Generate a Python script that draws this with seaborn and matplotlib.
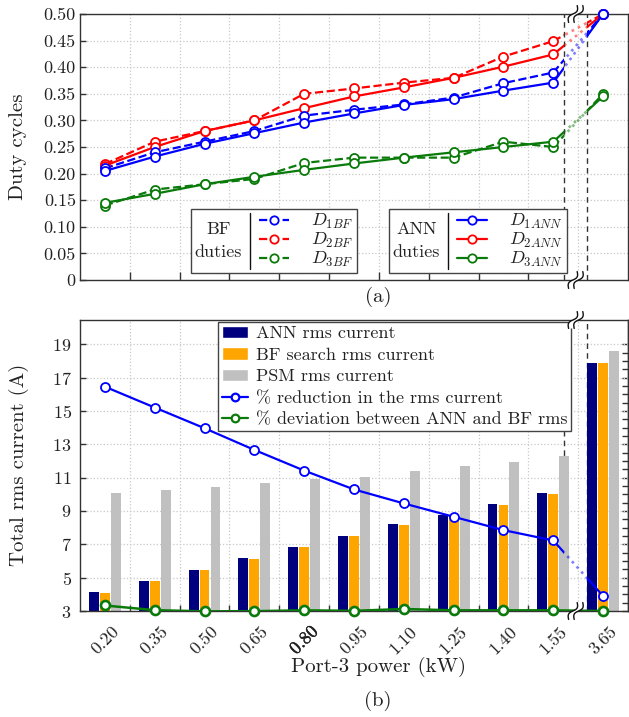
import numpy as np
import pandas as pd
import matplotlib
matplotlib.use("Agg")
import matplotlib.pyplot as plt
import matplotlib.transforms as mtransforms
import matplotlib.patheffects as pe
from matplotlib.lines import Line2D
from matplotlib.patches import Patch, Rectangle, Polygon
from matplotlib.legend import Legend
from matplotlib.offsetbox import HPacker, DrawingArea
import seaborn as sns

# ---------------------------------------------------------------- data
power_labels = ["0.20", "0.35", "0.50", "0.65", "0.80", "0.95",
                "1.10", "1.25", "1.40", "1.55", "3.65"]

# duty cycles (ANN prediction vs brute-force search)
d1_ann = [0.205, 0.232, 0.256, 0.276, 0.296, 0.313, 0.329, 0.340, 0.356, 0.371, 0.500]
d1_bf = [0.210, 0.240, 0.260, 0.280, 0.309, 0.320, 0.330, 0.343, 0.370, 0.390, 0.500]
d2_ann = [0.215, 0.250, 0.280, 0.300, 0.323, 0.345, 0.362, 0.380, 0.401, 0.424, 0.500]
d2_bf = [0.218, 0.260, 0.280, 0.300, 0.350, 0.360, 0.371, 0.380, 0.420, 0.449, 0.500]
d3_ann = [0.145, 0.162, 0.180, 0.194, 0.207, 0.219, 0.230, 0.240, 0.250, 0.260, 0.345]
d3_bf = [0.140, 0.170, 0.180, 0.190, 0.220, 0.230, 0.230, 0.230, 0.260, 0.250, 0.350]

# total rms currents (A)
ann_rms = [4.15, 4.80, 5.45, 6.15, 6.85, 7.50, 8.20, 8.77, 9.42, 10.05, 17.90]
bf_rms = [4.10, 4.78, 5.45, 6.13, 6.85, 7.48, 8.15, 8.75, 9.38, 10.02, 17.90]
psm_rms = [10.08, 10.25, 10.43, 10.65, 10.89, 11.04, 11.38, 11.68, 11.96, 12.32, 18.61]

# percentage curves
reduction_pct = [16.45, 15.20, 13.96, 12.66, 11.42, 10.29, 9.45, 8.65, 7.85, 7.23, 3.90]
deviation_pct = [3.33, 3.05, 2.98, 2.99, 3.04, 3.01, 3.12, 3.04, 3.04, 3.04, 3.00]

duty_ticks = [0, 0.05, 0.10, 0.15, 0.20, 0.25, 0.30, 0.35, 0.40, 0.45, 0.50]
rms_ticks = [3, 5, 7, 9, 11, 13, 15, 17, 19]

# ---------------------------------------------------------------- style
BLUE, RED, GREEN = "#0000ff", "#ff0000", "#0a7a0a"
NAVY, ORANGE, SILVER = "#00007f", "#ffa500", "#c0c0c0"
INK = "#222222"
GRID = dict(color="#c8c8c8", linestyle=":", linewidth=0.9)

sns.set_theme(style="white")
plt.rcParams.update({
    "font.family": ["cmr10"],
    "mathtext.fontset": "cm",
    "axes.unicode_minus": False,
    "axes.formatter.use_mathtext": True,
    "axes.edgecolor": "#333333",
    "axes.linewidth": 1.0,
    "xtick.color": "#333333",
    "ytick.color": "#333333",
    "xtick.labelcolor": INK,
    "ytick.labelcolor": INK,
    "text.color": INK,
})

W, H = 629, 717
fig = plt.figure(figsize=(W / 100, H / 100), dpi=100)


def px_rect(left, top, right, bottom):
    return [left / W, 1 - bottom / H, (right - left) / W, (bottom - top) / H]


ax1 = fig.add_axes(px_rect(80, 14, 628, 280))
ax2 = fig.add_axes(px_rect(80, 320, 628, 611))

pos = np.arange(len(power_labels))
BREAK_LO, BREAK_HI, BREAK_MID = 9.22, 9.68, 9.45
LW, MS, MEW = 1.6, 6.5, 1.3


def broken_series(ax, y, color, ls, z=3):
    """Line through all points; the last segment is dotted across the axis break."""
    y = np.asarray(y)
    ax.plot(pos[:-1], y[:-1], color=color, ls=ls, lw=LW, zorder=z)
    blend = mtransforms.blended_transform_factory(ax.transData, ax.transAxes)
    for x0, x1, style, alpha in [(-1, BREAK_LO, ls, 1.0),
                                 (BREAK_LO, BREAK_HI, ":", 0.5),
                                 (BREAK_HI, 12, ls, 1.0)]:
        seg, = ax.plot(pos[-2:], y[-2:], color=color, ls=style, lw=LW + 0.3 * (style == ":"),
                       alpha=alpha, zorder=z)
        seg.set_clip_path(Rectangle((x0, -1), x1 - x0, 3, transform=blend))
    ax.plot(pos, y, ls="none", marker="o", ms=MS, mfc="white", mec=color, mew=MEW,
            zorder=z + 0.5, clip_on=False)


def squiggle(ax, xd):
    blend = mtransforms.blended_transform_factory(ax.transData, ax.transAxes)
    t = np.linspace(-1, 1, 60)
    d = np.array([0.45, 0.89])
    n = np.array([0.89, -0.45])
    base = np.outer(t * 0.095, d) + np.outer(0.024 * np.sin(np.pi * t), n)
    left = base - [0.028, 0]
    right = base + [0.028, 0]
    for ya in (0, 1):
        tr = fig.dpi_scale_trans + mtransforms.ScaledTranslation(xd, ya, blend)
        fill = Polygon(np.vstack([left, right[::-1]]), closed=True, facecolor="white",
                       edgecolor="none", transform=tr, clip_on=False, zorder=6)
        ax.add_artist(fill)
        fill.set_clip_on(False)
        for c in (left, right):
            ln = Line2D(c[:, 0], c[:, 1], color="#111111", lw=1.0, transform=tr,
                        clip_on=False, zorder=6.1)
            ax.add_artist(ln)
            ln.set_clip_on(False)


# ---------------------------------------------------------------- (a) duty cycles
for y, color, ls in [(d3_bf, GREEN, "--"), (d3_ann, GREEN, "-"),
                     (d2_bf, RED, "--"), (d2_ann, RED, "-"),
                     (d1_bf, BLUE, "--"), (d1_ann, BLUE, "-")]:
    broken_series(ax1, y, color, ls)

for xb in (BREAK_LO, BREAK_HI):
    ax1.axvline(xb, color="#333333", ls=(0, (4, 3)), lw=1.0, zorder=2.5)

ax1.set_xlim(-0.5, len(pos) - 0.5)
ax1.set_ylim(0, 0.5)
ax1.set_xticks(pos[:-1] + 0.5)
ax1.set_xticklabels([])
ax1.set_yticks(duty_ticks)
ax1.set_yticklabels(["0" if v == 0 else f"{v:.2f}" for v in duty_ticks])
ax1.tick_params(axis="x", direction="in", length=6, width=1, bottom=True)
ax1.tick_params(axis="y", direction="in", length=4, width=1, left=True, labelsize=13, pad=3)
ax1.grid(True, axis="both", **GRID)
ax1.set_axisbelow(True)
for sp in ax1.spines.values():
    sp.set_zorder(2.6)


def side_title_legend(ax, handles, labels, title, anchor):
    leg = Legend(ax, handles, labels, title=title, loc="lower left",
                 bbox_to_anchor=anchor, bbox_transform=ax.transAxes, borderaxespad=0,
                 frameon=True, fancybox=False, edgecolor="#444444", framealpha=1,
                 fontsize=13, title_fontsize=13, handlelength=1.7, handletextpad=1.2,
                 labelspacing=0.0, borderpad=0.2)
    leg.get_frame().set_linewidth(1.0)
    leg.get_title().set_multialignment("center")
    leg.get_title().set_linespacing(1.55)
    sep = DrawingArea(6, 40, 0, 0)
    sep.add_artist(Line2D([3, 3], [0, 40], color="#111111", lw=1.0))
    row = HPacker(children=[leg._legend_title_box, sep, leg._legend_handle_box],
                  align="center", pad=0, sep=3)
    leg._legend_box._children = [row]
    leg._legend_box.set_figure(ax.figure)
    leg.set_zorder(5)
    ax.add_artist(leg)
    return leg


def duty_handle(color, ls):
    return Line2D([], [], color=color, ls=ls, lw=LW, marker="o", ms=MS - 0.5,
                  mfc="white", mec=color, mew=MEW)


side_title_legend(ax1, [duty_handle(c, "--") for c in (BLUE, RED, GREEN)],
                  [r"$D_{1BF}$", r"$D_{2BF}$", r"$D_{3BF}$"], "BF\nduties",
                  (0.2026, 0.026))
side_title_legend(ax1, [duty_handle(c, "-") for c in (BLUE, RED, GREEN)],
                  [r"$D_{1ANN}$", r"$D_{2ANN}$", r"$D_{3ANN}$"], "ANN\nduties",
                  (0.564, 0.026))

squiggle(ax1, BREAK_MID)

# ---------------------------------------------------------------- (b) rms currents
series_names = ["ANN rms current", "BF search rms current", "PSM rms current"]
bars = pd.DataFrame({
    "power": power_labels * 3,
    "series": np.repeat(series_names, len(power_labels)),
    "current": ann_rms + bf_rms + psm_rms,
})
sns.barplot(data=bars, x="power", y="current", hue="series", order=power_labels,
            hue_order=series_names, palette=[NAVY, ORANGE, SILVER], saturation=1,
            width=0.66, gap=0.1, errorbar=None, legend=False, linewidth=0,
            zorder=2, ax=ax2)

for xb in (BREAK_LO, BREAK_HI):
    ax2.axvline(xb, color="#333333", ls=(0, (4, 3)), lw=1.0, zorder=1.5)

broken_series(ax2, reduction_pct, BLUE, "-", z=3)
ax2.plot(pos, deviation_pct, color=GREEN, lw=LW + 0.2, zorder=3.2)
ax2.plot(pos, deviation_pct, ls="none", marker="o", ms=MS, mfc="white", mec=GREEN,
         mew=MEW + 0.6, zorder=3.6, clip_on=False)

ax2.set_xlim(-0.5, len(pos) - 0.5)
ax2.set_ylim(3, 20.45)
ax2.set_yticks(rms_ticks)
ax2.set_xticks(pos)
ax2.set_xticklabels(power_labels)
ax2.set_xticks(pos[:-1] + 0.5, minor=True)
ax2.set_xlabel("")
ax2.set_ylabel("")
ax2.tick_params(axis="x", which="major", length=0, labelsize=13, labelrotation=45, pad=9)
ax2.tick_params(axis="x", which="minor", direction="in", length=4, bottom=True)
ax2.tick_params(axis="y", direction="in", length=4, width=1, left=True, labelsize=13, pad=6)
ax2.grid(True, axis="y", which="major", **GRID)
ax2.grid(True, axis="x", which="minor", **GRID)
ax2.set_axisbelow(True)
ax2.get_xticklabels()[4].set_path_effects([pe.withStroke(linewidth=0.35, foreground=INK)])

right_ticks = ax2.secondary_yaxis("right")
right_ticks.set_yticks(np.arange(3, 19.01, 0.5))
right_ticks.set_yticklabels([])
right_ticks.tick_params(direction="in", length=4, width=1)

rms_handles = [Patch(facecolor=NAVY), Patch(facecolor=ORANGE), Patch(facecolor=SILVER),
               Line2D([], [], color=BLUE, lw=LW, marker="o", ms=MS - 1, mfc="white",
                      mec=BLUE, mew=MEW + 0.3),
               Line2D([], [], color=GREEN, lw=LW, marker="o", ms=MS - 1, mfc="white",
                      mec=GREEN, mew=MEW + 0.3)]
rms_labels = series_names + ["% reduction in the rms current",
                             "% deviation between ANN and BF rms"]
leg2 = ax2.legend(rms_handles, rms_labels, loc="upper right",
                  bbox_to_anchor=((571 - 80) / 548, 1 - 2 / 291), borderaxespad=0,
                  frameon=True, fancybox=False, edgecolor="#444444", framealpha=1,
                  fontsize=13, handlelength=1.45, handleheight=0.7, handletextpad=0.45,
                  labelspacing=0.33, borderpad=0.2)
leg2.get_frame().set_linewidth(1.0)
leg2.set_zorder(5)

squiggle(ax2, BREAK_MID)

# ---------------------------------------------------------------- figure text
fig.text(18 / W, 1 - 147 / H, "Duty cycles", rotation=90, ha="center", va="center",
         fontsize=15)
fig.text(19 / W, 1 - 465 / H, "Total rms current (A)", rotation=90, ha="center",
         va="center", fontsize=15)
fig.text(378 / W, 1 - 297 / H, "(a)", ha="center", va="center", fontsize=15)
fig.text(378 / W, 1 - 667 / H, "Port-3 power (kW)", ha="center", va="center", fontsize=15)
fig.text(378 / W, 1 - 701 / H, "(b)", ha="center", va="center", fontsize=15)

fig.savefig("out.png", dpi=100, facecolor="white")
